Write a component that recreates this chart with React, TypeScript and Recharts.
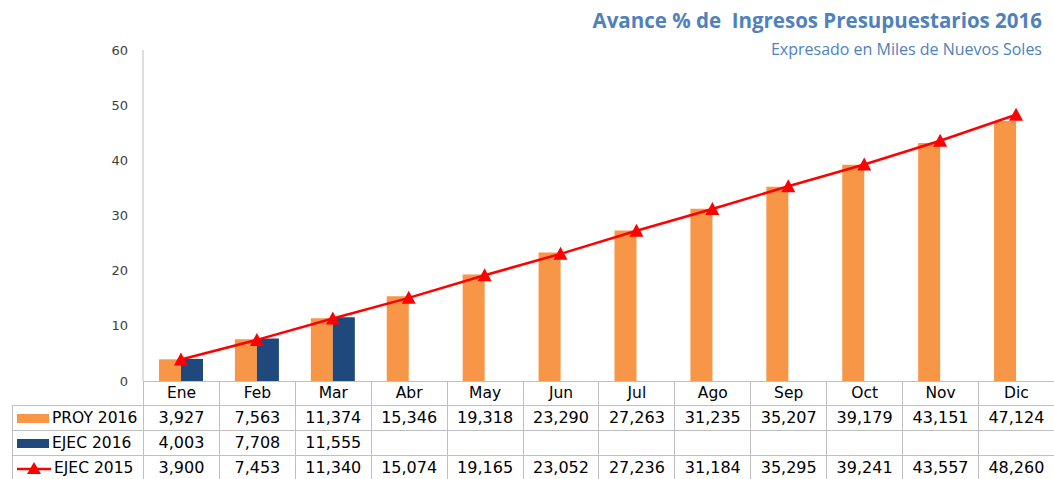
import { ComposedChart, Bar, Line, XAxis, YAxis } from 'recharts'

const months = ['Ene', 'Feb', 'Mar', 'Abr', 'May', 'Jun', 'Jul', 'Ago', 'Sep', 'Oct', 'Nov', 'Dic']
const proy2016 = [3927, 7563, 11374, 15346, 19318, 23290, 27263, 31235, 35207, 39179, 43151, 47124]
const ejec2016 = [4003, 7708, 11555]
const ejec2015 = [3900, 7453, 11340, 15074, 19165, 23052, 27236, 31184, 35295, 39241, 43557, 48260]
const yTicks = [0, 10, 20, 30, 40, 50, 60]

const ORANGE = '#F79646'
const BLUE = '#1F497D'
const RED = '#FF0000'
const GRID = '#BFBFBF'

const data = months.map((m, i) => ({
  month: m,
  proy: proy2016[i] / 1000,
  ejec: ejec2016[i] != null ? ejec2016[i] / 1000 : null,
  ejec15: ejec2015[i] / 1000
}))

const fmt = (v?: number) => (v == null ? '' : v.toLocaleString('en-US'))

const Triangle = (props: any) => {
  const { cx, cy } = props
  if (cx == null || cy == null) return null
  return <polygon points={`${cx},${cy - 7} ${cx + 7},${cy + 6} ${cx - 7},${cy + 6}`} fill={RED} />
}

const LEFT = 143
const COL = 911 / 12

const cell = (extra: any = {}) => ({
  width: COL,
  boxSizing: 'border-box' as const,
  borderLeft: `1px solid ${GRID}`,
  textAlign: 'center' as const,
  ...extra
})

const rows = [
  { label: 'PROY 2016', values: proy2016, icon: 'orange' },
  { label: 'EJEC 2016', values: ejec2016, icon: 'blue' },
  { label: 'EJEC 2015', values: ejec2015, icon: 'line' }
]

const LegendIcon = ({ kind }: { kind: string }) => {
  if (kind === 'line') {
    return (
      <svg width={34} height={14} style={{ display: 'block' }}>
        <line x1={0} y1={8} x2={34} y2={8} stroke={RED} strokeWidth={2.5} />
        <polygon points="17,1 24,13 10,13" fill={RED} />
      </svg>
    )
  }
  return <div style={{ width: 32, height: 9, background: kind === 'orange' ? ORANGE : BLUE }} />
}

export default function App() {
  return (
    <div style={{ position: 'absolute', left: 0, top: 0, width: 1054, height: 479, background: '#fff', overflow: 'hidden', fontFamily: 'DejaVu Sans' }}>
      <div style={{ position: 'absolute', right: 12, top: 6, fontFamily: 'Open Sans', fontWeight: 700, fontSize: 20.5, color: '#4F81BD', whiteSpace: 'pre', lineHeight: 'normal' }}>
        {'Avance % de  Ingresos Presupuestarios 2016'}
      </div>
      <div style={{ position: 'absolute', right: 12, top: 38, fontFamily: 'Open Sans', fontSize: 16, color: '#4F81BD', lineHeight: 'normal' }}>
        Expresado en Miles de Nuevos Soles
      </div>
      <ComposedChart
        width={1054}
        height={479}
        data={data}
        margin={{ top: 50, right: 0, bottom: 98, left: LEFT - 40 }}
        barGap={0}
        barSize={22}
        style={{ position: 'absolute', left: 0, top: 0 }}
      >
        <XAxis dataKey="month" hide />
        <YAxis
          width={40}
          domain={[0, 60]}
          ticks={yTicks}
          interval={0}
          tickLine={false}
          tickMargin={9}
          axisLine={{ stroke: GRID }}
          tick={{ fill: '#404040', fontSize: 13, fontFamily: 'DejaVu Sans' }}
        />
        <Bar dataKey="proy" fill={ORANGE} isAnimationActive={false} />
        <Bar dataKey="ejec" fill={BLUE} isAnimationActive={false} />
        <Line
          dataKey="ejec15"
          stroke={RED}
          strokeWidth={2.5}
          dot={<Triangle />}
          activeDot={false}
          isAnimationActive={false}
        />
      </ComposedChart>
      <div style={{ position: 'absolute', left: 0, top: 381, width: 1054, fontSize: 15.5, color: '#000' }}>
        <div style={{ display: 'flex', height: 24, alignItems: 'center', borderTop: `1px solid ${GRID}`, marginLeft: LEFT, boxSizing: 'border-box' }}>
          {months.map(m => (
            <div key={m} style={cell({ lineHeight: '23px' })}>{m}</div>
          ))}
        </div>
        {rows.map(r => (
          <div key={r.label} style={{ display: 'flex', height: 25, borderTop: `1px solid ${GRID}`, marginLeft: 12, boxSizing: 'border-box' }}>
            <div style={{ width: LEFT - 12, boxSizing: 'border-box', borderLeft: `1px solid ${GRID}`, display: 'flex', alignItems: 'center', paddingLeft: 4, gap: 3 }}>
              <LegendIcon kind={r.icon} />
              <span>{r.label}</span>
            </div>
            {months.map((m, i) => (
              <div key={m} style={cell({ lineHeight: '24px', fontSize: 16 })}>{fmt(r.values[i])}</div>
            ))}
          </div>
        ))}
      </div>
    </div>
  )
}
